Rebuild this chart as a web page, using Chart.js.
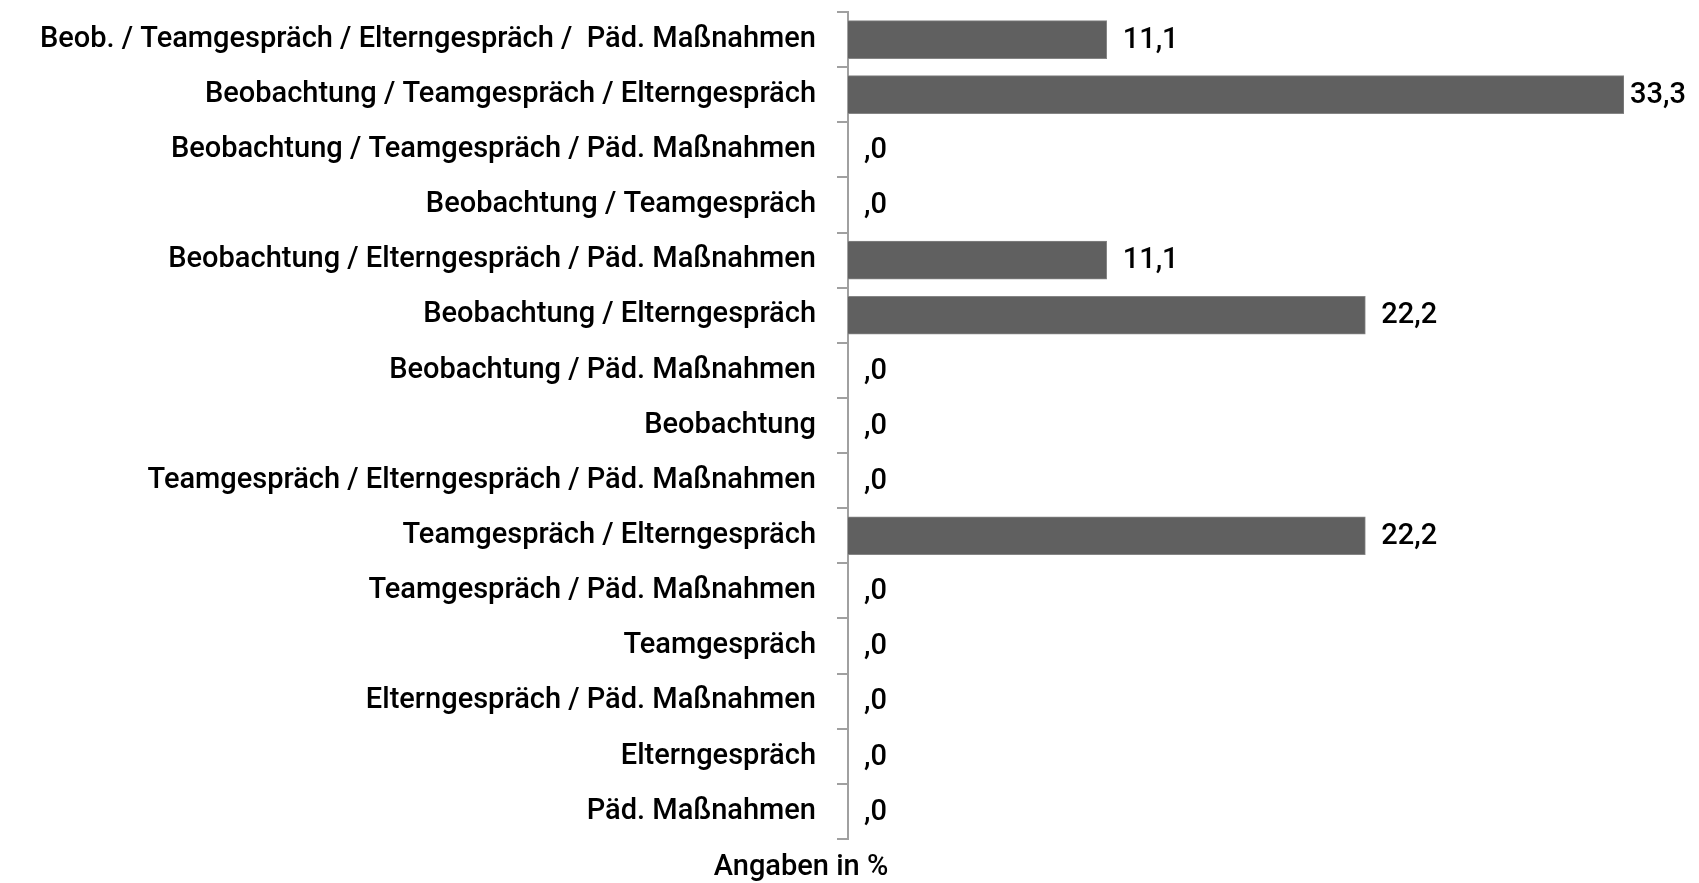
<!DOCTYPE html>
<html>
<head>
<meta charset="utf-8">
<script src="https://cdn.jsdelivr.net/npm/chart.js@4"></script>
<style>
  html, body { margin: 0; padding: 0; background: #ffffff; }
  #wrap { width: 1699px; height: 883px; }
</style>
</head>
<body>
<div id="wrap"><canvas id="chart"></canvas></div>
<script>
// ========================================
// Data
// ========================================
const categories = [
    'Beob. / Teamgespräch / Elterngespräch /  Päd. Maßnahmen',
    'Beobachtung / Teamgespräch / Elterngespräch',
    'Beobachtung / Teamgespräch / Päd. Maßnahmen',
    'Beobachtung / Teamgespräch',
    'Beobachtung / Elterngespräch / Päd. Maßnahmen',
    'Beobachtung / Elterngespräch',
    'Beobachtung / Päd. Maßnahmen',
    'Beobachtung',
    'Teamgespräch / Elterngespräch / Päd. Maßnahmen',
    'Teamgespräch / Elterngespräch',
    'Teamgespräch / Päd. Maßnahmen',
    'Teamgespräch',
    'Elterngespräch / Päd. Maßnahmen',
    'Elterngespräch',
    'Päd. Maßnahmen'
];
const percentValues = [11.1, 33.3, 0, 0, 11.1, 22.2, 0, 0, 0, 22.2, 0, 0, 0, 0, 0];
const axisTitle = 'Angaben in %';

const FONT = 'Roboto, "Liberation Sans", sans-serif';

// SPSS-style number: 0 -> ",0", 11.1 -> "11,1"
function formatValue(v) {
    const s = v.toFixed(1).replace('.', ',');
    return s.startsWith('0,') ? s.slice(1) : s;
}

// ========================================
// Value labels next to bars + axis title
// ========================================
const valueLabels = {
    id: 'valueLabels',
    afterDatasetsDraw(chart) {
        const ctx = chart.ctx;
        const meta = chart.getDatasetMeta(0);
        ctx.save();
        ctx.font = '500 29px ' + FONT;
        ctx.fillStyle = '#000000';
        ctx.textBaseline = 'middle';
        ctx.textAlign = 'left';
        meta.data.forEach((bar, i) => {
            const text = formatValue(percentValues[i]);
            const w = ctx.measureText(text).width;
            let x = bar.x + 16;
            if (x + w > chart.width - 10) x = bar.x + 6;
            ctx.fillText(text, x, bar.y + 1);
        });

        // "Angaben in %" below the axis
        ctx.textAlign = 'center';
        ctx.fillText(axisTitle, chart.chartArea.left - 47, chart.chartArea.bottom + 29);
        ctx.restore();
    }
};

// ========================================
// Chart
// ========================================
new Chart(document.getElementById('chart'), {
    type: 'bar',
    data: {
        labels: categories,
        datasets: [{
            data: percentValues,
            backgroundColor: '#606060',
            borderColor: '#858585',
            borderWidth: 1,
            barThickness: 38
        }]
    },
    options: {
        indexAxis: 'y',
        responsive: true,
        maintainAspectRatio: false,
        animation: false,
        layout: { padding: { top: 12, right: 75, left: 0, bottom: 44 } },
        plugins: {
            legend: { display: false },
            tooltip: { enabled: false },
            title: { display: false }
        },
        scales: {
            x: {
                display: false,
                min: 0,
                max: 33.3
            },
            y: {
                afterFit(scale) {
                    scale.width = 848;
                    scale.paddingTop = 0;
                    scale.paddingBottom = 0;
                },
                border: { display: true, color: '#a0a0a0', width: 2 },
                grid: {
                    drawOnChartArea: false,
                    drawTicks: true,
                    tickLength: 11,
                    color: '#a0a0a0',
                    lineWidth: 2,
                    offset: true
                },
                ticks: {
                    color: '#000000',
                    padding: 21,
                    autoSkip: false,
                    font: { family: FONT, size: 29, weight: '500' }
                }
            }
        }
    },
    plugins: [valueLabels]
});
</script>
</body>
</html>
